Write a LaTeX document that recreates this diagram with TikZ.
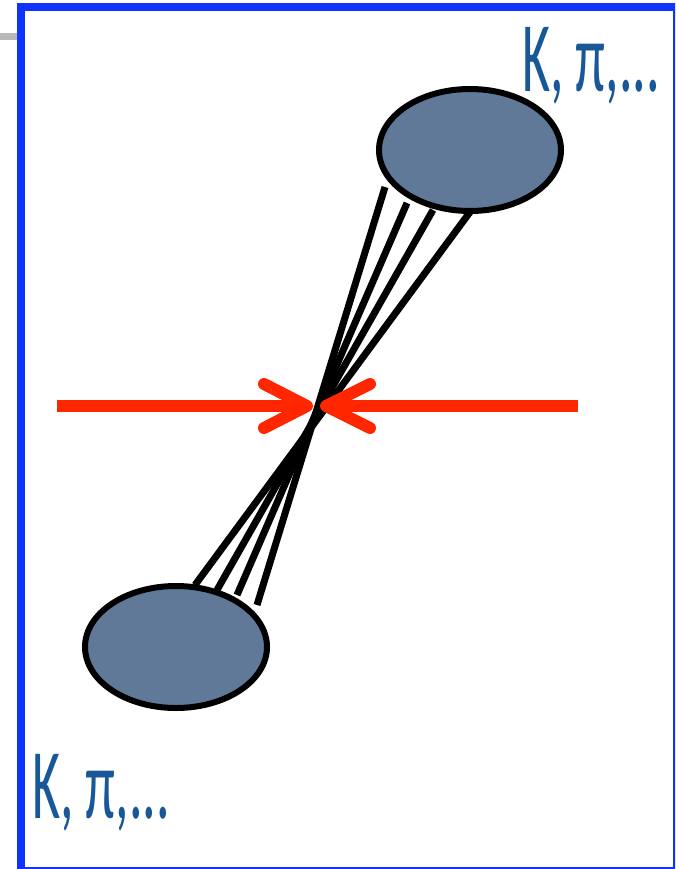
\documentclass[tikz,border=0pt]{standalone}
\usepackage{fontspec}
\usetikzlibrary{shapes.geometric}
\setmainfont{Carlito}
\definecolor{frameblue}{RGB}{16,51,255}
\definecolor{txtblue}{RGB}{25,88,152}
\definecolor{blobfill}{RGB}{96,121,152}
\definecolor{arrred}{RGB}{255,38,0}
\definecolor{barGray}{RGB}{185,185,185}
\begin{document}
\begin{tikzpicture}[x=1pt,y=-1pt,
  blob/.style={draw=black,line width=6pt,fill=blobfill,ellipse,minimum width=182pt,minimum height=122pt,inner sep=0pt},
  strand/.style={black,line width=7pt},
  redline/.style={arrred,line width=12pt,line cap=round,line join=round},
  lbl/.style={text=txtblue,font=\fontsize{100}{100}\selectfont,inner sep=0pt,anchor=base west,xscale=0.54}]
\useasboundingbox (0,0) rectangle (675,869);
\clip (0,0) rectangle (675,869);
\fill[white] (0,0) rectangle (675,869);
% gray bar
\fill[barGray] (0,33) rectangle (17,40);
% frame
\draw[frameblue,line width=8pt] (21,7.5) rectangle (677,871);
% strands
\coordinate (t1) at (385,187);
\coordinate (t2) at (407,203);
\coordinate (t3) at (433,210);
\coordinate (t4) at (470,212);
\coordinate (b1) at (257,605);
\coordinate (b2) at (237,595);
\coordinate (b3) at (217,590);
\coordinate (b4) at (195,585);
\draw[strand] (t1) -- (b1);
\draw[strand] (t2) -- (b2);
\draw[strand] (t3) -- (b3);
\draw[strand] (t4) -- (b4);
% blobs
\node[blob] (top) at (470,150) {};
\node[blob] (bot) at (176,647) {};
% red arrows
\coordinate (ls) at (57,406);
\coordinate (lt) at (307,406);
\coordinate (la) at (264,384);
\coordinate (lb) at (264,428);
\coordinate (rs) at (578,406);
\coordinate (rt) at (326,406);
\coordinate (ra) at (370,384);
\coordinate (rb) at (370,428);
\draw[redline,line cap=butt] (ls) -- (lt);
\draw[redline] (la) -- (lt) -- (lb);
\draw[redline,line cap=butt] (rs) -- (rt);
\draw[redline] (ra) -- (rt) -- (rb);
% labels
\node[lbl] (ltop) at (522,92) {K, π,...};
\node[lbl] (lbot) at (32,818) {K, π,...};
\end{tikzpicture}
\end{document}
